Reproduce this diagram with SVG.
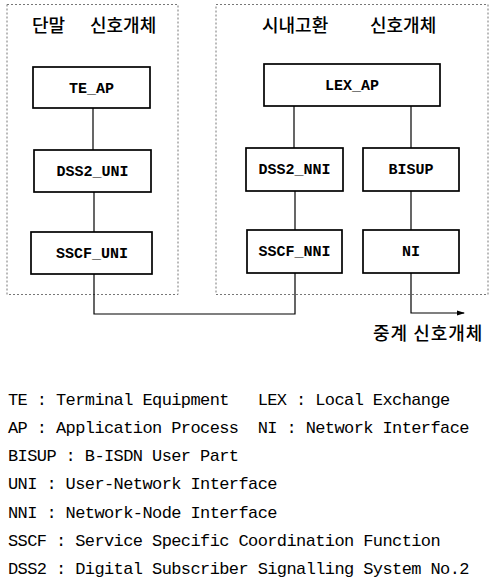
<svg xmlns="http://www.w3.org/2000/svg" width="499" height="579" viewBox="0 0 499 579">
<style>
.grp{fill:none;stroke:#777;stroke-width:1;stroke-dasharray:2 2}
.box{fill:#fff;stroke:#000;stroke-width:1.7}
.lbl{font-family:"Liberation Mono","DejaVu Sans Mono",monospace;font-size:15px;font-weight:bold;text-anchor:middle;fill:#000}
.ttl{font-family:"Noto Sans CJK KR","Noto Sans",sans-serif;font-size:18px;font-weight:500;fill:#000}
.leg{font-family:"Liberation Mono","DejaVu Sans Mono",monospace;font-size:17px;letter-spacing:-0.6px;fill:#000}
.ln{fill:none;stroke:#000;stroke-width:1.2}
</style>
<defs>
<marker id="arr" markerWidth="8" markerHeight="6" refX="7" refY="3" orient="auto" markerUnits="userSpaceOnUse">
<path d="M0,0.5 L8,3 L0,5.5 z" fill="#000"/>
</marker>
</defs>
<rect width="499" height="579" fill="#fff"/>

<g id="terminal-group">
<rect class="grp" x="7" y="4.5" width="171" height="290"/>
<text class="ttl" x="32" y="32">단말</text>
<text class="ttl" x="90" y="32">신호개체</text>
</g>
<g id="exchange-group">
<rect class="grp" x="216" y="4.5" width="272" height="290"/>
<text class="ttl" x="262" y="32">시내고환</text>
<text class="ttl" x="370" y="32">신호개체</text>
</g>

<g id="connectors">
<path class="ln" d="M93,108 V150"/>
<path class="ln" d="M94,192 V232"/>
<path class="ln" d="M94,274 V314 H295 V273"/>
<path class="ln" d="M294,106 V148"/>
<path class="ln" d="M411,106 V148"/>
<path class="ln" d="M295,191 V230"/>
<path class="ln" d="M411,191 V230"/>
<path class="ln" d="M411,273 V313 H464" marker-end="url(#arr)"/>
</g>

<g id="TE_AP"><rect class="box" x="33" y="67" width="117" height="41"/><text class="lbl" x="91.5" y="93">TE_AP</text></g>
<g id="DSS2_UNI"><rect class="box" x="34" y="150" width="117" height="42"/><text class="lbl" x="92.5" y="176">DSS2_UNI</text></g>
<g id="SSCF_UNI"><rect class="box" x="31" y="232" width="121" height="42"/><text class="lbl" x="92" y="258">SSCF_UNI</text></g>

<g id="LEX_AP"><rect class="box" x="264" y="64" width="176" height="42"/><text class="lbl" x="352" y="90">LEX_AP</text></g>
<g id="DSS2_NNI"><rect class="box" x="246" y="148" width="97" height="43"/><text class="lbl" x="294.5" y="174">DSS2_NNI</text></g>
<g id="BISUP"><rect class="box" x="363" y="148" width="96" height="43"/><text class="lbl" x="411" y="174">BISUP</text></g>
<g id="SSCF_NNI"><rect class="box" x="247" y="230" width="95" height="43"/><text class="lbl" x="294.5" y="256">SSCF_NNI</text></g>
<g id="NI"><rect class="box" x="363" y="230" width="96" height="43"/><text class="lbl" x="411" y="256">NI</text></g>

<g id="relay-label">
<text class="ttl" x="373" y="340" style="letter-spacing:1px">중계 신호개체</text>
</g>

<g id="legend">
<text class="leg" x="8" y="405" xml:space="preserve">TE : Terminal Equipment   LEX : Local Exchange</text>
<text class="leg" x="8" y="433" xml:space="preserve">AP : Application Process  NI : Network Interface</text>
<text class="leg" x="8" y="461">BISUP : B-ISDN User Part</text>
<text class="leg" x="8" y="489">UNI : User-Network Interface</text>
<text class="leg" x="8" y="518">NNI : Network-Node Interface</text>
<text class="leg" x="8" y="546">SSCF : Service Specific Coordination Function</text>
<text class="leg" x="8" y="574">DSS2 : Digital Subscriber Signalling System No.2</text>
</g>
</svg>
